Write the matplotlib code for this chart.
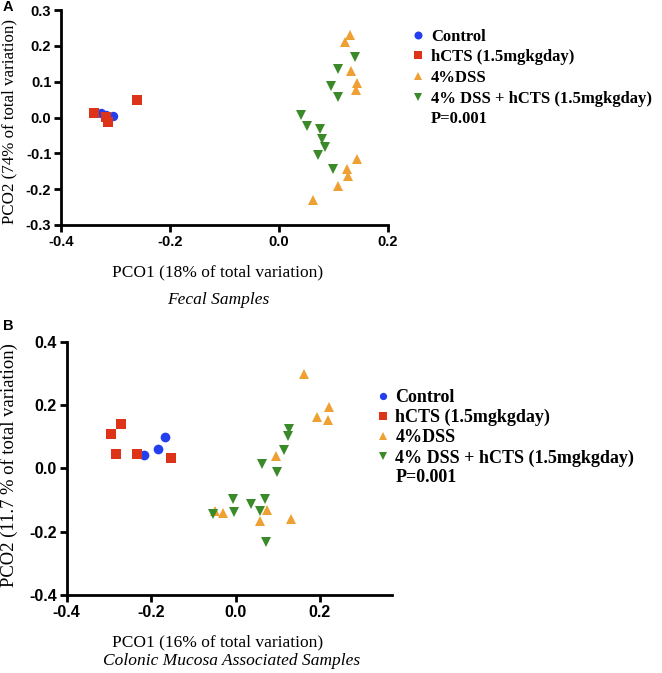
import matplotlib
matplotlib.use("Agg")
import matplotlib.pyplot as plt
from matplotlib.lines import Line2D

W, H = 662, 673

# ---------------- data: panel A (Fecal samples) ----------------
a_ctrl_x = [-0.327, -0.305, -0.318]
a_ctrl_y = [0.012, 0.004, 0.008]
a_hcts_x = [-0.339, -0.313, -0.261, -0.318]
a_hcts_y = [0.012, -0.013, 0.049, 0.002]
a_dss_x = [0.131, 0.121, 0.132, 0.143, 0.141, 0.143, 0.125, 0.128, 0.109, 0.063]
a_dss_y = [0.231, 0.212, 0.131, 0.097, 0.077, -0.115, -0.145, -0.163, -0.192, -0.229]
a_comb_x = [0.140, 0.109, 0.096, 0.109, 0.040, 0.052, 0.076, 0.079, 0.084, 0.072, 0.099]
a_comb_y = [0.169, 0.135, 0.089, 0.057, 0.007, -0.025, -0.033, -0.061, -0.081, -0.106, -0.143]

# ---------------- data: panel B (Colonic mucosa) ----------------
b_ctrl_x = [-0.217, -0.183, -0.166]
b_ctrl_y = [0.043, 0.061, 0.098]
b_hcts_x = [-0.295, -0.272, -0.283, -0.234, -0.154]
b_hcts_y = [0.109, 0.140, 0.046, 0.046, 0.032]
b_dss_x = [0.162, 0.221, 0.194, 0.218, 0.095, -0.049, -0.029, 0.075, 0.059, 0.132]
b_dss_y = [0.299, 0.193, 0.161, 0.153, 0.038, -0.134, -0.141, -0.132, -0.165, -0.160]
b_comb_x = [0.127, 0.125, 0.114, 0.062, 0.099, -0.006, 0.071, 0.036, -0.003, 0.059, -0.054, 0.073]
b_comb_y = [0.125, 0.103, 0.059, 0.014, -0.013, -0.097, -0.097, -0.113, -0.139, -0.136, -0.144, -0.234]

labels = ["Control", "hCTS (1.5mgkgday)", "4%DSS", "4% DSS + hCTS (1.5mgkgday)"]
p_text = "P=0.001"
a_xticks = [-0.4, -0.2, 0.0, 0.2]
a_yticks = [-0.3, -0.2, -0.1, 0.0, 0.1, 0.2, 0.3]
b_xticks = [-0.4, -0.2, 0.0, 0.2]
b_yticks = [-0.4, -0.2, 0.0, 0.2, 0.4]

colors = ["#2440EE", "#DD3318", "#EFA033", "#3A8A2A"]
markers = ["o", "s", "^", "v"]

fig = plt.figure(figsize=(W / 100, H / 100), dpi=100)

def fx(px):
    return px / W

def fy(py):
    return 1 - py / H

def make_axes(left, right, top, bottom):
    return fig.add_axes([fx(left), fy(bottom), fx(right) - fx(left), fy(top) - fy(bottom)])

sans = "Liberation Sans"
serif = "Liberation Serif"

def style(ax, xlim, ylim, xt, yt, fs):
    ax.set_xlim(*xlim)
    ax.set_ylim(*ylim)
    ax.set_xticks(xt)
    ax.set_yticks(yt)
    ax.set_xticklabels([f"{v:.1f}" for v in xt])
    ax.set_yticklabels([f"{v:.1f}" for v in yt])
    for s in ["top", "right"]:
        ax.spines[s].set_visible(False)
    for s in ["left", "bottom"]:
        ax.spines[s].set_linewidth(2.0)
        ax.spines[s].set_color("black")
    ax.tick_params(direction="out", length=5, width=2.0, pad=2)
    for lab in ax.get_xticklabels() + ax.get_yticklabels():
        lab.set_fontfamily(sans)
        lab.set_fontweight("bold")
        lab.set_fontsize(fs)

def scatter_groups(ax, groups, ms):
    handles = []
    for (x, y), c, m, lab in zip(groups, colors, markers, labels):
        h, = ax.plot(x, y, linestyle="none", marker=m, color=c, markersize=ms,
                     markeredgewidth=0, clip_on=False, label=lab)
        handles.append(h)
    return handles

# ---------- Panel A ----------
axA = make_axes(61, 387.7, 10, 225)
hA = scatter_groups(axA, [(a_ctrl_x, a_ctrl_y), (a_hcts_x, a_hcts_y),
                          (a_dss_x, a_dss_y), (a_comb_x, a_comb_y)], 6.8)
style(axA, (-0.4, 0.2), (-0.3, 0.3), a_xticks, a_yticks, 10.5)
hp = Line2D([], [], linestyle="none", marker=None, label=p_text)
axA.legend(handles=hA + [hp], loc="upper left",
           bbox_to_anchor=(fx(406), fy(22)), bbox_transform=fig.transFigure,
           frameon=False, handlelength=0.6, handletextpad=0.5, labelspacing=0.28,
           borderaxespad=0, markerscale=0.85,
           prop={"family": serif, "weight": "bold", "size": 12})

fig.text(fx(218), fy(272), "PCO1 (18% of total variation)", family=serif, size=12.5,
         ha="center", va="center")
fig.text(fx(218), fy(300), "Fecal Samples", family=serif, style="italic", size=12.5,
         ha="center", va="center")
fig.text(fx(9), fy(121), "PCO2 (74% of total variation)", family=serif, size=12.2,
         ha="center", va="center", rotation=90)
fig.text(fx(3), fy(7), "A", family=sans, weight="bold", size=10.5, ha="left", va="center")

# ---------- Panel B ----------
axB = make_axes(66.7, 391.7, 341.7, 595)
hB = scatter_groups(axB, [(b_ctrl_x, b_ctrl_y), (b_hcts_x, b_hcts_y),
                          (b_dss_x, b_dss_y), (b_comb_x, b_comb_y)], 7)
style(axB, (-0.4, 0.37), (-0.4, 0.4), b_xticks, b_yticks, 11.5)
hp2 = Line2D([], [], linestyle="none", marker=None, label=p_text)
axB.legend(handles=hB + [hp2], loc="upper left",
           bbox_to_anchor=(fx(370), fy(382)), bbox_transform=fig.transFigure,
           frameon=False, handlelength=0.6, handletextpad=0.4, labelspacing=0.16,
           borderaxespad=0, markerscale=0.75,
           prop={"family": serif, "weight": "bold", "size": 13})

fig.text(fx(218), fy(642), "PCO1 (16% of total variation)", family=serif, size=12.5,
         ha="center", va="center")
fig.text(fx(232), fy(661), "Colonic Mucosa Associated Samples", family=serif,
         style="italic", size=12.5, ha="center", va="center")
fig.text(fx(9), fy(465), "PCO2 (11.7 % of total variation)", family=serif, size=13.4,
         ha="center", va="center", rotation=90)
fig.text(fx(3), fy(326), "B", family=sans, weight="bold", size=10.5, ha="left", va="center")

fig.savefig("out.png", dpi=100, facecolor="white")
